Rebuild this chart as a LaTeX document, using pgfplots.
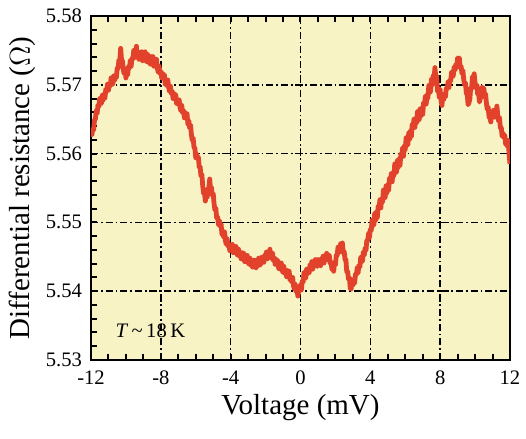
\documentclass[border=0pt]{standalone}
\usepackage{pgfplots}
\usepackage{pgfplotstable}
\pgfplotsset{compat=1.18}
\usepackage{fontspec}
\setmainfont{Liberation Serif}
\definecolor{bgyellow}{RGB}{247,243,197}
\definecolor{curvered}{RGB}{226,66,44}
\pgfplotstableread{
x y
-12.00 5.5633
-11.95 5.5627
-11.90 5.5636
-11.85 5.5634
-11.80 5.5649
-11.75 5.5650
-11.70 5.5663
-11.65 5.5658
-11.60 5.5671
-11.55 5.5668
-11.50 5.5680
-11.45 5.5674
-11.40 5.5673
-11.35 5.5685
-11.30 5.5678
-11.25 5.5687
-11.20 5.5681
-11.15 5.5694
-11.10 5.5691
-11.05 5.5701
-11.00 5.5692
-10.95 5.5702
-10.90 5.5698
-10.85 5.5710
-10.80 5.5702
-10.75 5.5701
-10.70 5.5713
-10.65 5.5706
-10.60 5.5713
-10.55 5.5710
-10.50 5.5724
-10.45 5.5724
-10.40 5.5736
-10.35 5.5735
-10.30 5.5753
-10.25 5.5736
-10.20 5.5735
-10.15 5.5722
-10.10 5.5716
-10.05 5.5723
-10.00 5.5710
-9.95 5.5719
-9.90 5.5714
-9.85 5.5727
-9.80 5.5724
-9.75 5.5735
-9.70 5.5727
-9.65 5.5739
-9.60 5.5737
-9.55 5.5750
-9.50 5.5742
-9.45 5.5740
-9.40 5.5756
-9.35 5.5743
-9.30 5.5748
-9.25 5.5737
-9.20 5.5747
-9.15 5.5740
-9.10 5.5748
-9.05 5.5735
-9.00 5.5745
-8.95 5.5737
-8.90 5.5748
-8.85 5.5737
-8.80 5.5733
-8.75 5.5744
-8.70 5.5733
-8.65 5.5740
-8.60 5.5730
-8.55 5.5741
-8.50 5.5734
-8.45 5.5741
-8.40 5.5727
-8.35 5.5736
-8.30 5.5727
-8.25 5.5737
-8.20 5.5724
-8.15 5.5718
-8.10 5.5727
-8.05 5.5716
-8.00 5.5720
-7.95 5.5710
-7.90 5.5717
-7.85 5.5710
-7.80 5.5715
-7.75 5.5701
-7.70 5.5707
-7.65 5.5699
-7.60 5.5707
-7.55 5.5696
-7.50 5.5690
-7.45 5.5698
-7.40 5.5687
-7.35 5.5691
-7.30 5.5680
-7.25 5.5688
-7.20 5.5681
-7.15 5.5686
-7.10 5.5673
-7.05 5.5679
-7.00 5.5671
-6.95 5.5678
-6.90 5.5667
-6.85 5.5662
-6.80 5.5670
-6.75 5.5659
-6.70 5.5663
-6.65 5.5652
-6.60 5.5660
-6.55 5.5653
-6.50 5.5658
-6.45 5.5643
-6.40 5.5648
-6.35 5.5637
-6.30 5.5642
-6.25 5.5628
-6.20 5.5619
-6.15 5.5623
-6.10 5.5609
-6.05 5.5608
-6.00 5.5594
-5.95 5.5600
-5.90 5.5592
-5.85 5.5595
-5.80 5.5580
-5.75 5.5581
-5.70 5.5567
-5.65 5.5570
-5.60 5.5553
-5.55 5.5542
-5.50 5.5543
-5.45 5.5531
-5.40 5.5540
-5.35 5.5536
-5.30 5.5549
-5.25 5.5550
-5.20 5.5563
-5.15 5.5548
-5.10 5.5551
-5.05 5.5539
-5.00 5.5542
-4.95 5.5527
-4.90 5.5518
-4.85 5.5521
-4.80 5.5506
-4.75 5.5508
-4.70 5.5497
-4.65 5.5503
-4.60 5.5494
-4.55 5.5498
-4.50 5.5483
-4.45 5.5488
-4.40 5.5479
-4.35 5.5486
-4.30 5.5473
-4.25 5.5468
-4.20 5.5476
-4.15 5.5465
-4.10 5.5469
-4.05 5.5459
-4.00 5.5467
-3.95 5.5461
-3.90 5.5468
-3.85 5.5456
-3.80 5.5463
-3.75 5.5456
-3.70 5.5465
-3.65 5.5455
-3.60 5.5452
-3.55 5.5461
-3.50 5.5451
-3.45 5.5456
-3.40 5.5447
-3.35 5.5456
-3.30 5.5449
-3.25 5.5455
-3.20 5.5443
-3.15 5.5450
-3.10 5.5443
-3.05 5.5452
-3.00 5.5442
-2.95 5.5439
-2.90 5.5448
-2.85 5.5438
-2.80 5.5444
-2.75 5.5435
-2.70 5.5445
-2.65 5.5439
-2.60 5.5445
-2.55 5.5434
-2.50 5.5441
-2.45 5.5436
-2.40 5.5448
-2.35 5.5440
-2.30 5.5438
-2.25 5.5449
-2.20 5.5442
-2.15 5.5449
-2.10 5.5442
-2.05 5.5453
-2.00 5.5449
-1.95 5.5457
-1.90 5.5447
-1.85 5.5456
-1.80 5.5451
-1.75 5.5461
-1.70 5.5451
-1.65 5.5447
-1.60 5.5455
-1.55 5.5444
-1.50 5.5449
-1.45 5.5439
-1.40 5.5447
-1.35 5.5440
-1.30 5.5445
-1.25 5.5433
-1.20 5.5439
-1.15 5.5432
-1.10 5.5441
-1.05 5.5431
-1.00 5.5427
-0.95 5.5436
-0.90 5.5426
-0.85 5.5431
-0.80 5.5421
-0.75 5.5430
-0.70 5.5423
-0.65 5.5429
-0.60 5.5416
-0.55 5.5421
-0.50 5.5413
-0.45 5.5420
-0.40 5.5408
-0.35 5.5403
-0.30 5.5410
-0.25 5.5399
-0.20 5.5402
-0.15 5.5393
-0.10 5.5403
-0.05 5.5400
0.00 5.5409
0.05 5.5402
0.10 5.5415
0.15 5.5413
0.20 5.5427
0.25 5.5420
0.30 5.5419
0.35 5.5432
0.40 5.5425
0.45 5.5433
0.50 5.5427
0.55 5.5439
0.60 5.5435
0.65 5.5443
0.70 5.5432
0.75 5.5441
0.80 5.5436
0.85 5.5446
0.90 5.5438
0.95 5.5436
1.00 5.5446
1.05 5.5438
1.10 5.5445
1.15 5.5437
1.20 5.5448
1.25 5.5443
1.30 5.5451
1.35 5.5441
1.40 5.5450
1.45 5.5445
1.50 5.5455
1.55 5.5447
1.60 5.5445
1.65 5.5452
1.70 5.5440
1.75 5.5443
1.80 5.5432
1.85 5.5438
1.90 5.5429
1.95 5.5442
2.00 5.5438
2.05 5.5452
2.10 5.5452
2.15 5.5464
2.20 5.5457
2.25 5.5457
2.30 5.5469
2.35 5.5462
2.40 5.5470
2.45 5.5455
2.50 5.5458
2.55 5.5446
2.60 5.5446
2.65 5.5428
2.70 5.5429
2.75 5.5417
2.80 5.5420
2.85 5.5404
2.90 5.5403
2.95 5.5416
3.00 5.5409
3.05 5.5418
3.10 5.5412
3.15 5.5425
3.20 5.5424
3.25 5.5434
3.30 5.5427
3.35 5.5438
3.40 5.5435
3.45 5.5449
3.50 5.5443
3.55 5.5444
3.60 5.5457
3.65 5.5452
3.70 5.5463
3.75 5.5459
3.80 5.5474
3.85 5.5473
3.90 5.5484
3.95 5.5478
4.00 5.5490
4.05 5.5488
4.10 5.5503
4.15 5.5498
4.20 5.5496
4.25 5.5513
4.30 5.5503
4.35 5.5515
4.40 5.5507
4.45 5.5524
4.50 5.5520
4.55 5.5533
4.60 5.5521
4.65 5.5535
4.70 5.5530
4.75 5.5547
4.80 5.5537
4.85 5.5536
4.90 5.5553
4.95 5.5543
5.00 5.5555
5.05 5.5547
5.10 5.5564
5.15 5.5559
5.20 5.5571
5.25 5.5559
5.30 5.5573
5.35 5.5568
5.40 5.5585
5.45 5.5574
5.50 5.5573
5.55 5.5590
5.60 5.5580
5.65 5.5592
5.70 5.5583
5.75 5.5600
5.80 5.5596
5.85 5.5608
5.90 5.5596
5.95 5.5611
6.00 5.5606
6.05 5.5623
6.10 5.5614
6.15 5.5613
6.20 5.5630
6.25 5.5621
6.30 5.5633
6.35 5.5625
6.40 5.5643
6.45 5.5639
6.50 5.5650
6.55 5.5638
6.60 5.5651
6.65 5.5645
6.70 5.5661
6.75 5.5651
6.80 5.5649
6.85 5.5665
6.90 5.5655
6.95 5.5666
7.00 5.5657
7.05 5.5674
7.10 5.5671
7.15 5.5683
7.20 5.5672
7.25 5.5686
7.30 5.5681
7.35 5.5699
7.40 5.5689
7.45 5.5690
7.50 5.5708
7.55 5.5700
7.60 5.5713
7.65 5.5707
7.70 5.5725
7.75 5.5711
7.80 5.5713
7.85 5.5690
7.90 5.5694
7.95 5.5682
8.00 5.5693
8.05 5.5677
8.10 5.5670
8.15 5.5683
8.20 5.5678
8.25 5.5687
8.30 5.5682
8.35 5.5695
8.40 5.5694
8.45 5.5704
8.50 5.5696
8.55 5.5707
8.60 5.5705
8.65 5.5718
8.70 5.5712
8.75 5.5713
8.80 5.5726
8.85 5.5721
8.90 5.5730
8.95 5.5725
9.00 5.5739
9.05 5.5737
9.10 5.5739
9.15 5.5724
9.20 5.5727
9.25 5.5716
9.30 5.5721
9.35 5.5708
9.40 5.5700
9.45 5.5703
9.50 5.5687
9.55 5.5686
9.60 5.5671
9.65 5.5674
9.70 5.5679
9.75 5.5696
9.80 5.5694
9.85 5.5712
9.90 5.5710
9.95 5.5716
10.00 5.5702
10.05 5.5695
10.10 5.5700
10.15 5.5686
10.20 5.5688
10.25 5.5675
10.30 5.5680
10.35 5.5682
10.40 5.5697
10.45 5.5693
10.50 5.5695
10.55 5.5683
10.60 5.5687
10.65 5.5673
10.70 5.5664
10.75 5.5668
10.80 5.5653
10.85 5.5653
10.90 5.5646
10.95 5.5658
11.00 5.5654
11.05 5.5663
11.10 5.5653
11.15 5.5662
11.20 5.5658
11.25 5.5669
11.30 5.5655
11.35 5.5647
11.40 5.5652
11.45 5.5637
11.50 5.5638
11.55 5.5625
11.60 5.5630
11.65 5.5623
11.70 5.5627
11.75 5.5614
11.80 5.5620
11.85 5.5611
11.90 5.5619
11.95 5.5599
12.00 5.5585
}\datatable
\begin{document}
\begin{tikzpicture}
\begin{axis}[
  scale only axis,
  width=209.5pt, height=172pt,
  xmin=-12, xmax=12, ymin=5.53, ymax=5.58,
  axis background/.style={fill=bgyellow},
  axis line style={black, line width=1pt},
  xtick={-12,-8,-4,0,4,8,12},
  ytick={5.53,5.54,5.55,5.56,5.57,5.58},
  minor x tick num=3,
  minor y tick num=4,
  xtick pos=both,
  ytick pos=left,
  tick align=inside,
  major tick length=2.8pt,
  minor tick length=2.8pt,
  every tick/.style={black, line width=1pt},
  grid=major,
  major grid style={black, line width=0.8pt, dash pattern=on 3.6pt off 1.4pt on 0.9pt off 1.4pt},
  /pgf/number format/assume math mode=true,
  xticklabel style={font=\fontsize{10.3}{12}\selectfont, yshift=-2pt},
  yticklabel style={font=\fontsize{10.3}{12}\selectfont, xshift=-1pt,
    /pgf/number format/fixed, /pgf/number format/fixed zerofill, /pgf/number format/precision=2},
  xlabel={Voltage (mV)},
  ylabel={Differential resistance ($\Omega$)},
  label style={font=\fontsize{14.5}{17}\selectfont},
  xlabel style={yshift=2pt},
  ylabel style={yshift=-2pt},
]
\addplot[curvered, line width=2.4pt, line join=round] table[x=x, y=y] {\datatable};
\node[font=\fontsize{10.3}{12}\selectfont] at (axis cs:-8.6,5.5342) {\textit{T}\,\textasciitilde\,18\,K};
\end{axis}
\pgfresetboundingbox
\path[use as bounding box] (-45.5pt,-39.5pt) rectangle (217.5pt,180pt);
\end{tikzpicture}
\end{document}
